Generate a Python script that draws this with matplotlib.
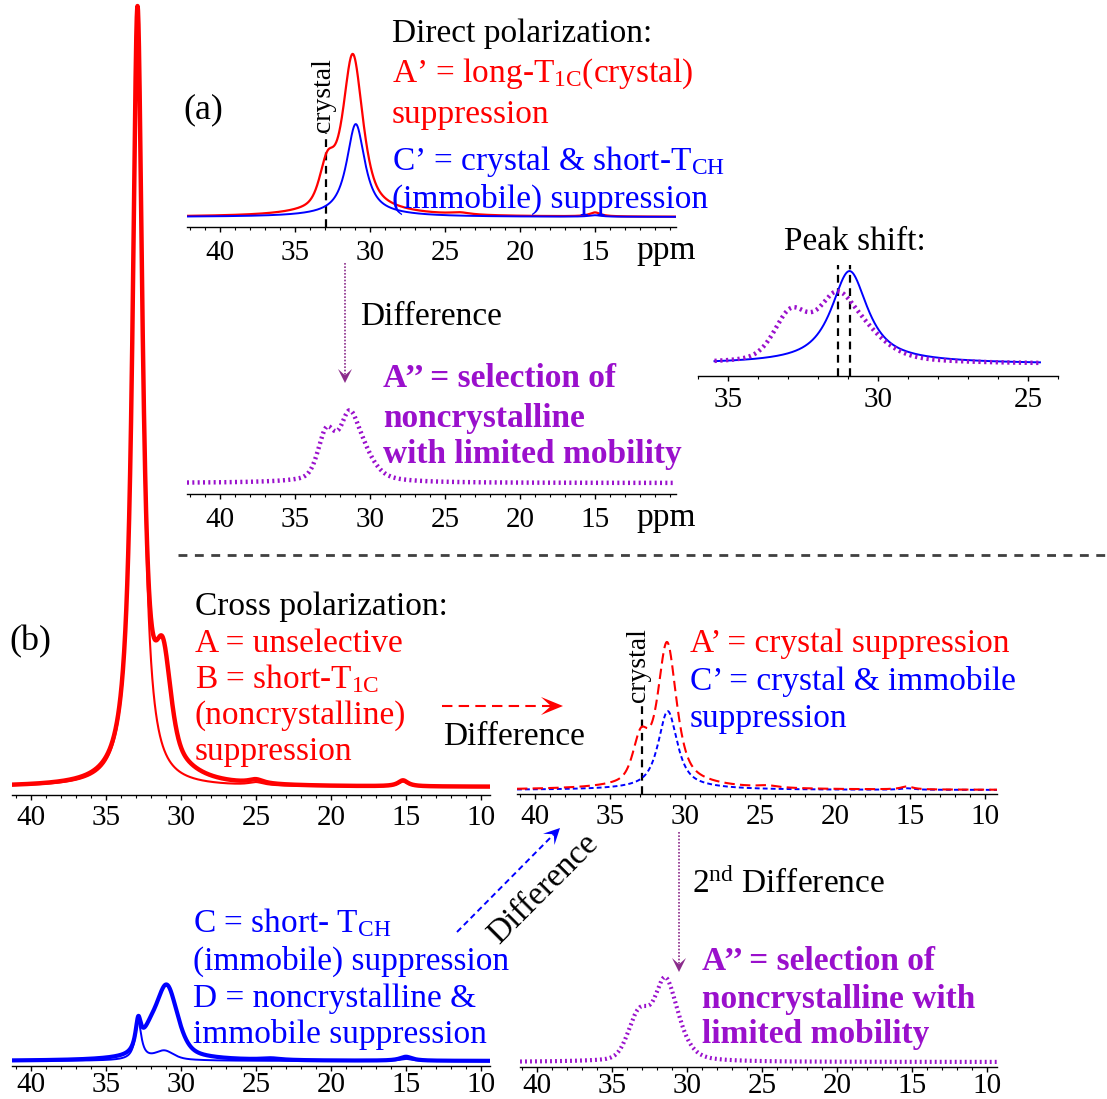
import numpy as np
import matplotlib
matplotlib.use("Agg")
import matplotlib.pyplot as plt
from matplotlib.patches import Polygon
from matplotlib.ticker import MultipleLocator

# 13C spectra, each one a sum of line components:
# (shift in ppm, height in a.u., half width in ppm, lorentzian fraction)
dp_a_prime = [(31.15, 155, 0.8, 0.7), (32.85, 40, 0.6, 0.5), (30.5, 6, 3.5, 1.0),
              (24.0, 2, 0.8, 1.0), (15.0, 4, 0.45, 1.0)]
dp_c_prime = [(30.95, 90, 0.72, 0.9), (30.5, 3, 3.0, 1.0), (15.0, 1.5, 0.5, 1.0)]
dp_a_dprime = [(31.4, 55, 0.72, 0.3), (30.4, 22, 0.9, 0.5), (32.9, 46, 0.65, 0.3),
               (31.5, 5, 2.5, 1.0)]

cp_a = [(32.9, 770, 0.4, 1.0), (31.2, 98, 0.62, 0.5), (30.5, 12, 2.0, 1.0),
        (25.0, 4, 0.6, 1.0), (15.2, 6, 0.4, 1.0)]
cp_b = [(32.9, 770, 0.4, 1.0), (25.0, 3, 0.6, 1.0), (15.2, 5, 0.4, 1.0)]
cp_a_prime = [(31.2, 140, 0.75, 0.7), (32.95, 42, 0.6, 0.5), (30.5, 6, 3.5, 1.0),
              (24.5, 2, 0.8, 1.0), (15.2, 3, 0.5, 1.0)]
cp_c_prime = [(31.15, 76, 0.75, 0.8), (30.5, 3, 3.0, 1.0), (15.2, 1.5, 0.5, 1.0)]
cp_c = [(32.85, 30, 0.22, 1.0), (30.95, 70, 0.85, 0.5), (32.1, 14, 0.6, 0.5),
        (31.0, 4, 3.0, 1.0), (24.0, 1.5, 0.8, 1.0), (15.0, 4, 0.5, 1.0)]
cp_d = [(32.85, 38, 0.25, 1.0), (31.1, 8, 0.7, 0.5), (31.5, 2, 2.0, 1.0),
        (15.0, 2, 0.5, 1.0)]
cp_a_dprime = [(31.5, 66, 0.75, 0.2), (30.6, 22, 0.9, 0.5), (33.15, 46, 0.85, 0.1),
               (32.0, 4, 2.5, 1.0)]

crystal_ppm = 32.9
dp_ticks = [40, 35, 30, 25, 20, 15]
cp_ticks = [40, 35, 30, 25, 20, 15, 10]
shift_ticks = [35, 30, 25]

RED = "#ff0000"
BLUE = "#0000ff"
PURPLE = "#9a10cc"
ARROW_PURPLE = "#8b2b8b"

plt.rcParams["font.family"] = ["Liberation Serif", "DejaVu Serif"]
plt.rcParams["mathtext.fontset"] = "custom"
plt.rcParams["mathtext.rm"] = "Liberation Serif"
plt.rcParams["mathtext.it"] = "Liberation Serif:italic"
plt.rcParams["mathtext.bf"] = "Liberation Serif:bold"

W, H = 1107, 1099
fig = plt.figure(figsize=(W / 100, H / 100), dpi=100)

DOTS = (0, (0.45, 0.75))
FS = 24


def spectrum(ppm, peaks):
    y = np.zeros_like(ppm)
    for c, h, w, eta in peaks:
        d = (ppm - c) / w
        y += h * (eta / (1 + d ** 2) + (1 - eta) * np.exp(-np.log(2) * d ** 2))
    return y


def spec_axes(ref_x, ppm_range, y_axis, y_top, gap, ticks, pad,
              scale=15.0, ref_ppm=40.0):
    hi, lo = ppm_range
    x0 = ref_x + (ref_ppm - hi) * scale
    x1 = ref_x + (ref_ppm - lo) * scale
    ax = fig.add_axes([x0 / W, 1 - y_axis / H, (x1 - x0) / W, (y_axis - y_top) / H])
    ax.set_xlim(hi, lo)
    ax.set_ylim(-gap, y_axis - y_top - gap)
    ax.patch.set_visible(False)
    for s in ["left", "right", "top"]:
        ax.spines[s].set_visible(False)
    ax.spines["bottom"].set_linewidth(1.0)
    ax.yaxis.set_visible(False)
    ax.set_xticks(ticks)
    ax.xaxis.set_minor_locator(MultipleLocator(1))
    ax.tick_params(axis="x", which="major", direction="out", length=3.6, width=1,
                   labelsize=21, pad=pad)
    ax.tick_params(axis="x", which="minor", direction="out", length=2.2, width=0.8)
    return ax


def grid(ppm_range, n=2000):
    return np.linspace(ppm_range[0], ppm_range[1], n)


def crystal_marker(ax, top):
    lo = ax.get_ylim()[0]
    ax.plot([crystal_ppm, crystal_ppm], [lo, top], color="black", lw=1.6,
            ls=(0, (3.5, 2.5)), zorder=1)
    ax.annotate("crystal", xy=(crystal_ppm, top), xytext=(-2.5, 1),
                textcoords="offset points", rotation=90, ha="center",
                va="bottom", fontsize=20)


# (a) direct polarization
r1 = (42.2, 9.6)
ax = spec_axes(220, r1, 227, 40, 10, dp_ticks, 5.5)
x = grid(r1)
crystal_marker(ax, 84)
ax.plot(x, spectrum(x, dp_a_prime), color=RED, lw=1.6)
ax.plot(x, spectrum(x, dp_c_prime), color=BLUE, lw=1.4)

ax = spec_axes(220, r1, 494, 380, 11, dp_ticks, 5.5)
ax.plot(x, spectrum(x, dp_a_dprime), color=PURPLE, lw=3.2, ls=DOTS,
        dash_capstyle="butt")

# peak shift close-up
r2 = (36.0, 24.0)
ax = spec_axes(728, r2, 376, 250, 12, shift_ticks, 4.0, scale=30.0, ref_ppm=35.0)
xs = np.linspace(35.45, 24.6, 1500)
ya2 = spectrum(xs, dp_a_dprime)
yc1 = spectrum(xs, dp_c_prime)
for p in [xs[np.argmax(ya2)], xs[np.argmax(yc1)]]:
    ax.plot([p, p], [-12, 99], color="black", lw=1.6, ls=(0, (3.5, 2.5)))
ax.plot(xs, yc1, color=BLUE, lw=1.4)
ax.plot(xs, ya2, color=PURPLE, lw=3.2, ls=(0, (0.5, 0.8)), dash_capstyle="butt")

# (b) cross polarization
r3 = (41.27, 9.4)
x = grid(r3)
ax = spec_axes(31, r3, 795, 0, 8, cp_ticks, 3.5)
ax.plot(x, spectrum(x, cp_b), color=RED, lw=1.5)
ax.plot(x, spectrum(x, cp_a), color=RED, lw=3.2)

r4 = (41.2, 9.2)
x = grid(r4)
ax = spec_axes(535, r4, 794, 620, 4, cp_ticks, 3.5)
crystal_marker(ax, 87)
ax.plot(x, spectrum(x, cp_c_prime), color=BLUE, lw=1.4, ls=(0, (2.5, 1.6)))
ax.plot(x, spectrum(x, cp_a_prime), color=RED, lw=1.5, ls=(0, (5, 2.5)))

x = grid(r3)
ax = spec_axes(31, r3, 1066, 960, 5, cp_ticks, 1.0)
ax.plot(x, spectrum(x, cp_d), color=BLUE, lw=1.4)
ax.plot(x, spectrum(x, cp_c), color=BLUE, lw=3.0)

r5 = (41.13, 9.33)
x = grid(r5)
ax = spec_axes(537, r5, 1067, 960, 5, cp_ticks, 1.0)
ax.plot(x, spectrum(x, cp_a_dprime), color=PURPLE, lw=3.0, ls=DOTS,
        dash_capstyle="butt")

# labels, arrows and separator on a full-figure layer
ov = fig.add_axes([0, 0, 1, 1])
ov.set_xlim(0, W)
ov.set_ylim(H, 0)
ov.axis("off")


def dart(tip, dx, dy, color, length=14, half_w=7):
    d = np.array([dx, dy], float)
    d /= np.hypot(*d)
    n = np.array([-d[1], d[0]])
    tip = np.array(tip, float)
    pts = [tip, tip - d * length + n * half_w, tip - d * length * 0.55,
           tip - d * length - n * half_w]
    ov.add_patch(Polygon(pts, closed=True, facecolor=color, edgecolor="none"))
    return tip - d * length * 0.55


def txt(x, y, s, color="black", **kw):
    ov.text(x, y, s, color=color, fontsize=FS, ha="left", va="baseline", **kw)


ov.plot([178, 1105], [555, 555], color="#404040", lw=2.0, ls=(0, (3.2, 2.7)))

ov.text(183, 118, "(a)", fontsize=26, va="baseline")
ov.text(9, 650, "(b)", fontsize=26, va="baseline")

txt(392, 42, "Direct polarization:")
txt(392, 82, r"A’ = long-T$_{\rm 1C}$(crystal)", RED)
txt(392, 123, "suppression", RED)
txt(392, 170, r"C’ = crystal & short-T$_{\rm CH}$", BLUE)
txt(392, 208, "(immobile) suppression", BLUE)
txt(636, 259, "ppm")
txt(636, 526, "ppm")

end = dart((345, 383), 0, 1, ARROW_PURPLE)
ov.plot([345, 345], [263, end[1]], color=ARROW_PURPLE, lw=1.2, ls=(0, (1, 1)))
txt(360, 325, "Difference")
for yy, s in zip([387, 427, 463], ["A’’ = selection of", "noncrystalline",
                                    "with limited mobility"]):
    txt(383, yy, s, PURPLE, fontweight="bold")

ov.text(855, 250, "Peak shift:", fontsize=FS, ha="center", va="baseline")

txt(195, 615, "Cross polarization:")
txt(195, 652, "A = unselective", RED)
txt(195, 688, r"B = short-T$_{\rm 1C}$", RED)
txt(195, 724, "(noncrystalline)", RED)
txt(195, 760, "suppression", RED)

end = dart((563, 706), 1, 0, RED, length=22, half_w=9)
ov.plot([442, end[0]], [706, 706], color=RED, lw=1.5, ls=(0, (5, 3)))
txt(443, 745, "Difference")

txt(690, 652, "A’ = crystal suppression", RED)
txt(690, 690, "C’ = crystal & immobile", BLUE)
txt(690, 727, "suppression", BLUE)

txt(193, 932, r"C = short- T$_{\rm CH}$", BLUE)
txt(193, 970, "(immobile) suppression", BLUE)
txt(193, 1007, "D = noncrystalline &", BLUE)
txt(193, 1043, "immobile suppression", BLUE)

end = dart((560, 828), 103, -104, BLUE, length=16, half_w=8)
ov.plot([457, end[0]], [932, end[1]], color=BLUE, lw=1.4, ls=(0, (3, 2)))
ov.text(543, 889, "Difference", fontsize=FS, rotation=45, ha="center",
        va="center", rotation_mode="anchor")

end = dart((679, 972), 0, 1, ARROW_PURPLE)
ov.plot([679, 679], [832, end[1]], color=ARROW_PURPLE, lw=1.2, ls=(0, (1, 1)))
txt(692, 893, r"2$^{\rm nd}$ Difference")
for yy, s in zip([970, 1008, 1043], ["A’’ = selection of", "noncrystalline with",
                                      "limited mobility"]):
    txt(702, yy, s, PURPLE, fontweight="bold")

fig.savefig("out.png", dpi=100)
